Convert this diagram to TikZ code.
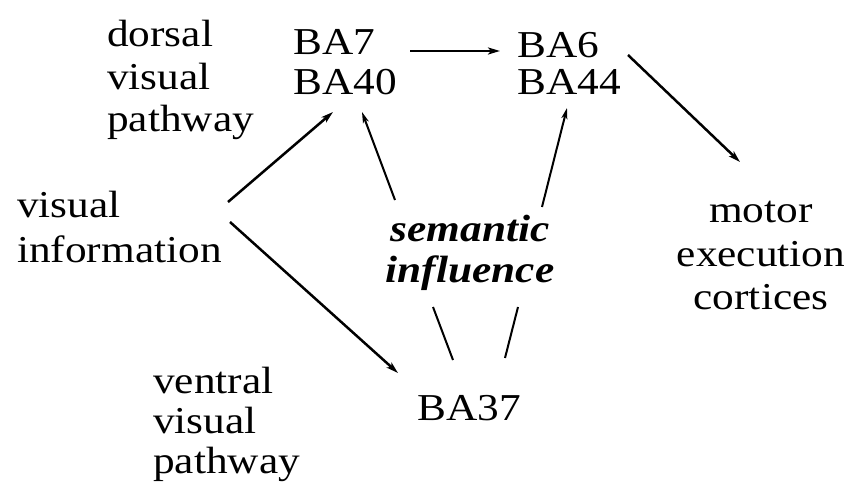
\documentclass[tikz,border=0pt]{standalone}
\usepackage{fontspec}
\setmainfont{Liberation Serif}[FakeStretch=1.14]
\usetikzlibrary{arrows.meta}
\newcommand{\fs}[1]{\fontsize{38}{#1}\selectfont}
\begin{document}
\begin{tikzpicture}[x=1pt,y=-1pt,
  txt/.style={inner sep=0pt,align=left},
  txtc/.style={inner sep=0pt,align=center},
  sem/.style={inner sep=0pt,align=center},
  arr/.style={line width=2.5pt,-{Stealth[length=12pt,width=7pt,inset=3pt]}},
  thinarr/.style={line width=2pt,-{Stealth[length=11pt,width=6pt,inset=3pt]}},
  link/.style={line width=2pt}]
\useasboundingbox (0,0) rectangle (854,486);
\fill[white] (0,0) rectangle (854,486);

% text labels (anchored at the baseline of their last line)
\node[txt,font=\fs{42.5},anchor=base west] (dorsal) at (107,132) {dorsal\\visual\\pathway};
\node[txt,font=\fs{40},anchor=base west] (ba7) at (293,95) {BA7\\BA40};
\node[txt,font=\fs{37.5},anchor=base west] (ba6) at (517,95) {BA6\\BA44};
\node[txt,font=\fs{45},anchor=base west] (visinfo) at (17,263) {visual\\information};
\node[txtc,font=\fs{43.5},anchor=base] (motor) at (761,310) {motor\\execution\\cortices};
\node[sem,font=\fs{41}\bfseries\itshape,anchor=base] (sem) at (470,283) {semantic\\influence};
\node[txt,font=\fs{40},anchor=base west] (ventral) at (153,473) {ventral\\visual\\pathway};
\node[txt,font=\fs{40},anchor=base west] (ba37) at (417,420) {BA37};

% connector end points
\coordinate (a1) at (410,51);   \coordinate (a2) at (500,51);
\coordinate (b1) at (628,55);   \coordinate (b2) at (740,162);
\coordinate (c1) at (228,202);  \coordinate (c2) at (333,112);
\coordinate (d1) at (230,222);  \coordinate (d2) at (398,373);
\coordinate (e1) at (395,200);  \coordinate (e2) at (362,112);
\coordinate (f1) at (542,207);  \coordinate (f2) at (567,108);
\coordinate (g1) at (433,307);  \coordinate (g2) at (453,360);
\coordinate (h1) at (518,307);  \coordinate (h2) at (505,358);

% visual pathways
\draw[arr] (a1) -- (a2);
\draw[arr] (b1) -- (b2);
\draw[arr] (c1) -- (c2);
\draw[arr] (d1) -- (d2);
% semantic influence links
\draw[thinarr] (e1) -- (e2);
\draw[thinarr] (f1) -- (f2);
\draw[link] (g1) -- (g2);
\draw[link] (h1) -- (h2);
\end{tikzpicture}
\end{document}
